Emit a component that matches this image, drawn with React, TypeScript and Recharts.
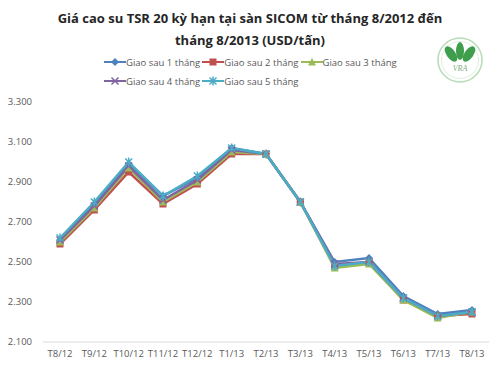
import React from "react";
import { LineChart, Line, XAxis, YAxis } from "recharts";

const months = ["T8/12", "T9/12", "T10/12", "T11/12", "T12/12", "T1/13", "T2/13", "T3/13", "T4/13", "T5/13", "T6/13", "T7/13", "T8/13"];
const sau1 = [2610, 2790, 2990, 2830, 2920, 3070, 3040, 2800, 2500, 2520, 2330, 2240, 2260];
const sau2 = [2590, 2760, 2950, 2790, 2890, 3040, 3040, 2800, 2480, 2500, 2310, 2230, 2240];
const sau3 = [2600, 2770, 2970, 2800, 2900, 3050, 3040, 2800, 2470, 2490, 2310, 2220, 2250];
const sau4 = [2610, 2780, 2980, 2810, 2910, 3060, 3040, 2800, 2490, 2500, 2320, 2230, 2250];
const sau5 = [2620, 2800, 3000, 2830, 2930, 3070, 3040, 2800, 2480, 2500, 2320, 2230, 2250];
const yTicks = [2100, 2300, 2500, 2700, 2900, 3100, 3300];

const series = [
  { key: "s1", name: "Giao sau 1 tháng", color: "#4F81BD", shape: "diamond" },
  { key: "s2", name: "Giao sau 2 tháng", color: "#C0504D", shape: "square" },
  { key: "s3", name: "Giao sau 3 tháng", color: "#9BBB59", shape: "triangle" },
  { key: "s4", name: "Giao sau 4 tháng", color: "#8064A2", shape: "x" },
  { key: "s5", name: "Giao sau 5 tháng", color: "#4BACC6", shape: "star" },
];

const data = months.map((m, i) => ({
  month: m,
  s1: sau1[i],
  s2: sau2[i],
  s3: sau3[i],
  s4: sau4[i],
  s5: sau5[i],
}));

function Marker({ cx, cy, shape, color }: { cx: number; cy: number; shape: string; color: string }) {
  const r = 4;
  if (shape === "diamond")
    return <path d={`M${cx},${cy - r} L${cx + r},${cy} L${cx},${cy + r} L${cx - r},${cy} Z`} fill={color} />;
  if (shape === "square") return <rect x={cx - 3.5} y={cy - 3.5} width={7} height={7} fill={color} />;
  if (shape === "triangle")
    return <path d={`M${cx},${cy - r} L${cx + r},${cy + 3.5} L${cx - r},${cy + 3.5} Z`} fill={color} />;
  if (shape === "x")
    return (
      <path d={`M${cx - 3.5},${cy - 3.5} L${cx + 3.5},${cy + 3.5} M${cx + 3.5},${cy - 3.5} L${cx - 3.5},${cy + 3.5}`} stroke={color} strokeWidth={1.5} />
    );
  return (
    <path
      d={`M${cx - 3.5},${cy - 3.5} L${cx + 3.5},${cy + 3.5} M${cx + 3.5},${cy - 3.5} L${cx - 3.5},${cy + 3.5} M${cx},${cy - 4.5} L${cx},${cy + 4.5}`}
      stroke={color}
      strokeWidth={1.5}
    />
  );
}

const fmt = (v: number) => `${Math.floor(v / 1000)}.${String(v % 1000).padStart(3, "0")}`;

function Logo() {
  return (
    <svg width={48} height={48} style={{ position: "absolute", left: 436, top: 36 }}>
      <circle cx={24} cy={24} r={22} fill="none" stroke="#b7dcb7" strokeWidth={1.5} />
      <circle cx={24} cy={24} r={18.5} fill="none" stroke="#d6ecd6" strokeWidth={0.8} />
      <ellipse cx={15} cy={18} rx={4.5} ry={9} fill="#3f9e4d" transform="rotate(-35 15 18)" />
      <ellipse cx={24} cy={15} rx={4} ry={9} fill="#3f9e4d" />
      <ellipse cx={33} cy={18} rx={4.5} ry={9} fill="#3f9e4d" transform="rotate(35 33 18)" />
      <text x={24} y={35} textAnchor="middle" fontSize={8} fill="#7fae7f" fontStyle="italic" fontFamily="Liberation Serif">
        VRA
      </text>
    </svg>
  );
}

export default function App() {
  return (
    <div style={{ position: "absolute", left: 0, top: 0, width: 500, height: 368, background: "#fff", fontFamily: "'Open Sans', sans-serif" }}>
      <div
        style={{
          position: "absolute",
          left: 0,
          top: 7,
          width: 500,
          textAlign: "center",
          fontWeight: "bold",
          fontSize: 13,
          lineHeight: "22px",
          color: "#262626",
        }}
      >
        Giá cao su TSR 20 kỳ hạn tại sàn SICOM từ tháng 8/2012 đến
        <br />
        tháng 8/2013 (USD/tấn)
      </div>
      <Logo />
      <div style={{ position: "absolute", left: 104, top: 55, width: 310, display: "flex", flexWrap: "wrap", rowGap: 5 }}>
        {series.map((s) => (
          <div key={s.key} style={{ display: "flex", alignItems: "center", fontSize: 9.5, color: "#595959", marginRight: 2, height: 14 }}>
            <svg width={22} height={10}>
              <line x1={0} y1={5} x2={22} y2={5} stroke={s.color} strokeWidth={2} />
              <Marker cx={11} cy={5} shape={s.shape} color={s.color} />
            </svg>
            <span>{s.name}</span>
          </div>
        ))}
      </div>
      <LineChart width={500} height={368} data={data} margin={{ top: 102, right: 11, bottom: 6, left: 0 }} style={{ position: "absolute", left: 0, top: 0 }}>
        <XAxis
          dataKey="month"
          tickLine={false}
          axisLine={{ stroke: "#D9D9D9" }}
          tick={{ fontSize: 9.5, fill: "#595959" }}
          interval={0}
          height={20}
          padding={{ left: 17, right: 17 }}
        />
        <YAxis
          domain={[2100, 3300]}
          ticks={yTicks}
          tickFormatter={fmt}
          tickLine={false}
          axisLine={false}
          width={43}
          tickMargin={5}
          tick={{ fontSize: 9.5, fill: "#595959" }}
        />
        {series.map((s) => (
          <Line
            key={s.key}
            dataKey={s.key}
            name={s.name}
            stroke={s.color}
            strokeWidth={2.5}
            isAnimationActive={false}
            dot={(p: any) => <Marker key={p.index} cx={p.cx} cy={p.cy} shape={s.shape} color={s.color} />}
          />
        ))}
      </LineChart>
    </div>
  );
}
